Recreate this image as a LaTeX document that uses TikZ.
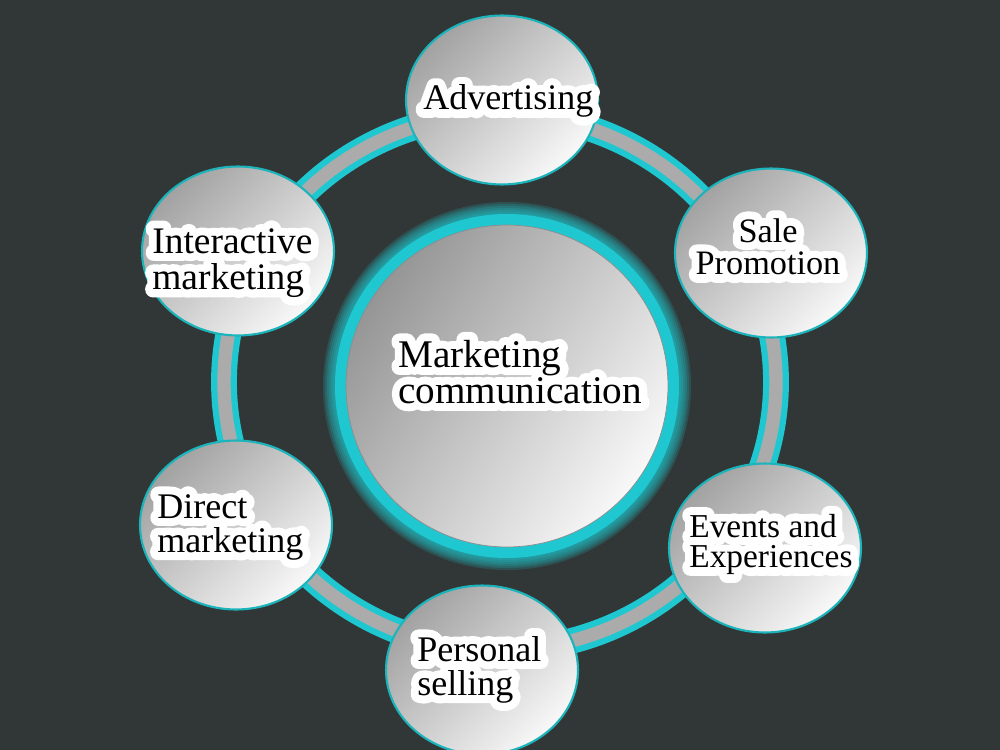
\documentclass[tikz,border=0pt]{standalone}
\usepackage{fontspec}
\setmainfont{Liberation Serif}
\usepackage{xcolor}
\usetikzlibrary{shapes.geometric}

\definecolor{bgdark}{HTML}{313737}
\definecolor{ringcyan}{HTML}{1FC8D0}
\definecolor{ringgray}{HTML}{ABABAB}
\definecolor{shadedark}{HTML}{A2A2A2}
\definecolor{shademid}{HTML}{DFDFDF}
\definecolor{shadelight}{HTML}{F8F8F8}

% text blocks with a white outline
\newcommand\leftlines[1]{\vtop{\lineskiplimit=-20pt\halign{##\hfil\cr#1\crcr}}}
\newcommand\midlines[1]{\vtop{\lineskiplimit=-20pt\halign{\hfil##\hfil\cr#1\crcr}}}
\newcommand\halo[1]{\rlap{\special{pdf:literal direct 1 Tr 9 w 1 j 1 1 1 RG}#1\special{pdf:literal direct 0 Tr 1 w 0 j 0 0 0 RG}}#1}

\begin{document}
\begin{tikzpicture}[
    x=0.02cm, y=-0.02cm,
    bubble/.style={ellipse, draw=ringcyan!90!black, line width=1.2pt, top color=shadedark, middle color=shademid, bottom color=shadelight, shading angle=45, minimum width=3.84cm, minimum height=3.38cm},
    hub/.style={circle, draw=black!45, line width=0.4pt, top color=shadedark!92!black, middle color=shademid, bottom color=shadelight, shading angle=55, minimum size=6.44cm},
    lbl/.style={font=\fontsize{20.5}{19.5}\selectfont, text=black, inner sep=0pt, anchor=base west},
]
\useasboundingbox (0,0) rectangle (1000,750);
\fill[bgdark] (0,0) rectangle (1000,750);

% Ring
\draw[ringcyan, line width=14.7pt] (500,382) ellipse [x radius=276, y radius=268];
\draw[ringgray, line width=7.6pt] (500,382) ellipse [x radius=276, y radius=268];

% Centre with glow
\foreach \r in {184,182,...,174}
  \fill[ringcyan, opacity=0.18] (507,386) circle [radius=\r];
\fill[ringcyan] (507,386) circle [radius=172];
\node[hub] (hub) at (507,386) {};

% Bubbles
\node[bubble] (adv) at (502,100) {};
\node[bubble] (sale) at (771,253) {};
\node[bubble] (events) at (765,548) {};
\node[bubble] (personal) at (482,670) {};
\node[bubble] (direct) at (236,525) {};
\node[bubble] (inter) at (238,251) {};

% Labels
\node[lbl, font=\fontsize{22.3}{20.5}\selectfont] (hub-txt) at (398,367) {\halo{\leftlines{Marketing\cr communication}}};
\node[lbl] (adv-txt) at (423,110) {\halo{Advertising}};
\node[lbl, anchor=base, font=\fontsize{19.5}{18.7}\selectfont] (sale-txt) at (768,242) {\halo{\midlines{Sale\cr Promotion}}};
\node[lbl, font=\fontsize{19}{17.6}\selectfont] (events-txt) at (689,537) {\halo{\leftlines{Events and\cr Experiences}}};
\node[lbl] (personal-txt) at (417,661) {\halo{\leftlines{Personal\cr selling}}};
\node[lbl] (direct-txt) at (157,518) {\halo{\leftlines{Direct\cr marketing}}};
\node[lbl, font=\fontsize{21.3}{20.8}\selectfont] (inter-txt) at (152,253) {\halo{\leftlines{Interactive\cr marketing}}};
\end{tikzpicture}
\end{document}
